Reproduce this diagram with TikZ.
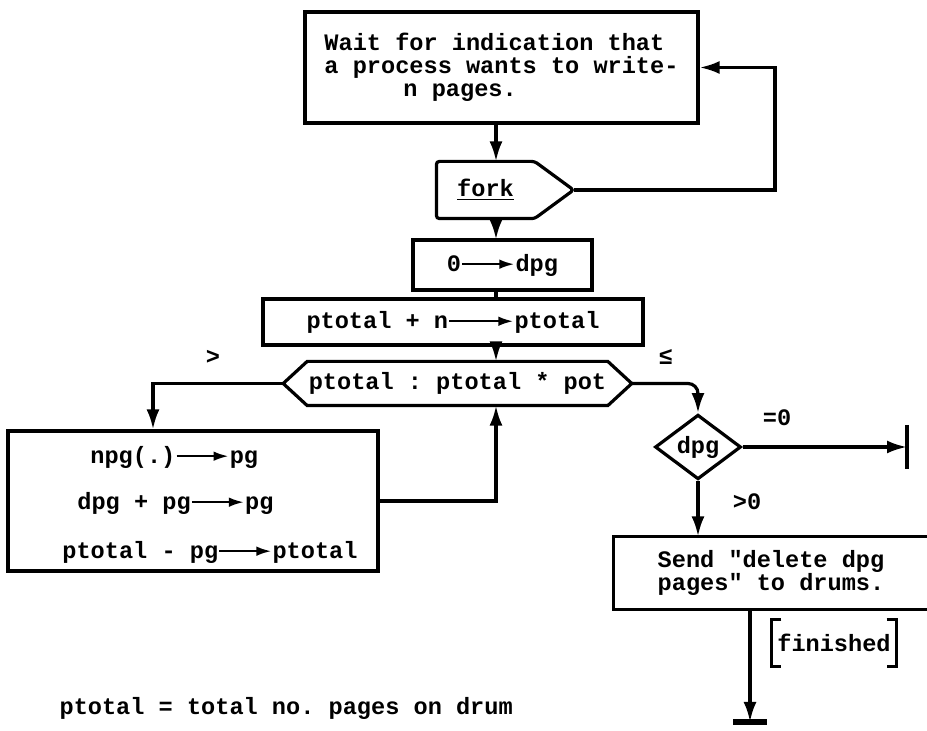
\documentclass[tikz,border=0pt]{standalone}
\usepackage{fontspec}
\setmonofont{Liberation Mono}
\usetikzlibrary{positioning}
\usetikzlibrary{calc}
\usetikzlibrary{arrows.meta}
\usetikzlibrary{shapes.geometric}
\tikzset{>={Latex[length=10pt,width=6.5pt]}}
\tikzset{box/.style={draw, rectangle, inner sep=0pt, align=center}}
\tikzset{plain/.style={inner sep=0pt}}
\tikzset{test/.style={draw, diamond, inner sep=0pt, minimum width=43pt, minimum height=31pt}}
\newcommand{\asgn}[1][26]{\tikz[baseline=-0.55ex, x=1pt, y=1pt]\draw[line width=1.2pt, -{Latex[length=7.5pt,width=4.8pt]}] (0,0) -- (#1,0);}

\begin{document}
\begin{tikzpicture}[x=0.5pt, y=-0.5pt, line width=1.6pt,
  every node/.style={font={\ttfamily\bfseries\fontsize{11.8pt}{11.4pt}\selectfont}}]
\useasboundingbox (0,0) rectangle (927,731);

\coordinate (spine) at (496,0);
\coordinate (lcol) at (153,0);
\coordinate (loop) at (775,130);
\coordinate (stopr) at (907,447);
\coordinate (stopb) at (750,722);

% main column
\node[box, minimum width=196.5pt, minimum height=55.5pt, align=left] (wait) at (501.5,67.5)
  {Wait for indication that\\a process wants to write-\\\hspace*{39.5pt}n pages.};

\node[plain, minimum width=47.5pt, minimum height=27pt] (fork) at (485.5,190) {\underline{fork}};
\coordinate (forktip) at ($(fork.east)+(39,0)$);
\draw[rounded corners=1.5pt] (fork.north west) -- (fork.north east) -- (forktip)
  -- (fork.south east) -- (fork.south west) -- cycle;

\node[box, minimum width=89.5pt, minimum height=25pt] (zero) at (502.5,265) {0\asgn dpg};
\node[box, minimum width=190pt, minimum height=23pt] (sum) at (453,322) {ptotal + n\asgn[32]ptotal};

\node[plain, minimum width=148.5pt, minimum height=20.5pt] (cmp) at (457.5,383.5) {ptotal : ptotal * pot};
\coordinate (cmpl) at ($(cmp.west)+(-24,0)$);
\coordinate (cmpr) at ($(cmp.east)+(24,0)$);
\draw (cmp.north west) -- (cmp.north east) -- (cmpr) -- (cmp.south east)
  -- (cmp.south west) -- (cmpl) -- cycle;

% left branch
\node[box, minimum width=185pt, minimum height=70pt] (upd) at (193,501) {};
\node[plain, anchor=west] (upda) at (90,457) {npg(.)\asgn pg};
\node[plain, anchor=west] (updb) at (77,503) {dpg + pg\asgn pg};
\node[plain, anchor=west] (updc) at (62,552) {ptotal - pg\asgn ptotal};

% right branch
\node[test] (dq) at (698,447) {dpg};
\node[plain, minimum width=156pt, minimum height=35pt, align=center] (send) at (771,573)
  {Send "delete dpg\\pages" to drums.};
\draw (send.north east) -- (send.north west) -- (send.south west) -- (send.south east);

\node[plain, minimum width=61pt, minimum height=22pt] (fin) at (834,643) {finished};
\draw ([xshift=5pt]fin.north west) -- (fin.north west) -- (fin.south west) -- ([xshift=5pt]fin.south west);
\draw ([xshift=-5pt]fin.north east) -- (fin.north east) -- (fin.south east) -- ([xshift=-5pt]fin.south east);

% labels
\node[plain] (gt) at (213,357) {>};
\node[plain] (le) at (666,357) {≤};
\node[plain] (eqz) at (777,418) {=0};
\node[plain] (gtz) at (747,502) {>0};
\node[plain, anchor=west] (note) at (58,708) {ptotal = total no. pages on drum};

% connectors
\draw[->] (wait.south -| spine) -- (fork.north -| spine);
\draw[->] (fork.south -| spine) -- (zero.north -| spine);
\draw (zero.south -| spine) -- (sum.north -| spine);
\draw[->] (sum.south -| spine) -- (cmp.north -| spine);
\draw[->] (forktip) -| (loop) |- (wait.east);
\draw[->] (cmpl) -| (upd.north -| lcol);
\draw[->] (upd.east) -| (cmp.south -| spine);
\draw[->, rounded corners=5pt] (cmpr) -| (dq.north);
\draw[->] (dq.east) -- (stopr);
\draw[line width=2.2pt] ($(stopr)+(0,-22)$) -- ($(stopr)+(0,22)$);
\draw[->] (dq.south) -- (send.north -| dq.south);
\draw[->] (send.south -| stopb) -- (stopb);
\draw[line width=3pt] ($(stopb)+(-17,0)$) -- ($(stopb)+(17,0)$);

\end{tikzpicture}
\end{document}
